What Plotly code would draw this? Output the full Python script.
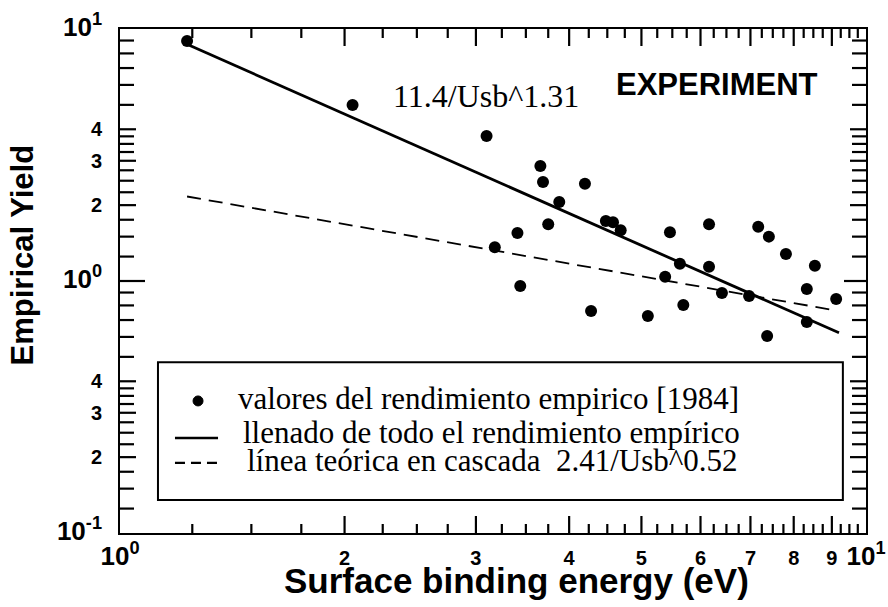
import plotly.graph_objects as go

# Measured sputtering yields vs surface binding energy
energy_ev = [1.23, 2.05, 3.10, 3.18, 3.41, 3.44, 3.66, 3.69, 3.75, 3.88, 4.20, 4.28,
             4.48, 4.58, 4.69, 5.10, 5.38, 5.46, 5.63, 5.69, 6.16, 6.16, 6.41, 6.97,
             7.17, 7.37, 7.41, 7.81, 8.33, 8.33, 8.54, 9.12]
yield_emp = [8.96, 4.99, 3.76, 1.36, 1.55, 0.955, 2.86, 2.47, 1.68, 2.06, 2.43, 0.76,
             1.73, 1.71, 1.59, 0.726, 1.04, 1.56, 1.17, 0.803, 1.68, 1.14, 0.896, 0.872,
             1.64, 0.605, 1.50, 1.28, 0.93, 0.687, 1.15, 0.848]

# Power-law fits Y = A / Usb^n, drawn over the range they span
fit_coef, fit_exp = 11.4, 1.31
fit_x = [1.23, 9.2]
casc_coef, casc_exp = 2.41, 0.52
casc_x = [1.23, 9.1]

fit_y = [fit_coef / u ** fit_exp for u in fit_x]
casc_y = [casc_coef / u ** casc_exp for u in casc_x]

# Axis ticks
big = "<span style='font-size:26px'>10<sup>%s</sup></span>"
x_major = [1, 2, 3, 4, 5, 6, 7, 8, 9, 10]
x_major_text = [big % "0", "2", "3", "4", "5", "6", "7", "8", "9", big % "1"]
x_minor = [i + q for i in range(1, 10) for q in (0.25, 0.5, 0.75)]

y_major = [0.1, 0.2, 0.3, 0.4, 1, 2, 3, 4, 10]
y_major_text = [big % "-1", "2", "3", "4", big % "0", "2", "3", "4", big % "1"]
y_minor = [v * d for d in (0.1, 1)
           for v in (1.25, 1.5, 1.75, 2.25, 2.5, 2.75, 3.25, 3.5, 3.75, 5, 6, 7, 8, 9)]

SANS = "Liberation Sans"
SERIF = "Liberation Serif"

# Axis extents (log10) and plot-area size in pixels
X_LOG = (0, 1)
Y_LOG = (-1, 1)
MARGIN = dict(l=120, r=22, t=29, b=74)
W, H = 888, 607
PX_PER_DEC_X = (W - MARGIN["l"] - MARGIN["r"]) / (X_LOG[1] - X_LOG[0])
PX_PER_DEC_Y = (H - MARGIN["t"] - MARGIN["b"]) / (Y_LOG[1] - Y_LOG[0])

fig = go.Figure()
fig.add_trace(go.Scatter(
    x=energy_ev, y=yield_emp, mode="markers",
    marker=dict(size=12, color="black"),
    name="valores del rendimiento empirico [1984]", showlegend=False))
fig.add_trace(go.Scatter(
    x=fit_x, y=fit_y, mode="lines",
    line=dict(color="black", width=2.8),
    name="llenado de todo el rendimiento empírico", showlegend=False))
fig.add_trace(go.Scatter(
    x=casc_x, y=casc_y, mode="lines",
    line=dict(color="black", width=1.8, dash="14px,8px"),
    name="línea teórica en cascada", showlegend=False))

# Inward tick marks on all four sides of the frame, built as one line trace
tick_x, tick_y = [], []
x_lo, x_hi = 10 ** X_LOG[0], 10 ** X_LOG[1]
y_lo, y_hi = 10 ** Y_LOG[0], 10 ** Y_LOG[1]


def add_x_tick(v, length):
    dy = length / PX_PER_DEC_Y
    tick_x.extend([v, v, None, v, v, None])
    tick_y.extend([y_lo, 10 ** (Y_LOG[0] + dy), None, 10 ** (Y_LOG[1] - dy), y_hi, None])


def add_y_tick(v, left_len, right_len):
    dl = left_len / PX_PER_DEC_X
    dr = right_len / PX_PER_DEC_X
    tick_x.extend([x_lo, 10 ** (X_LOG[0] + dl), None, 10 ** (X_LOG[1] - dr), x_hi, None])
    tick_y.extend([v, v, None, v, v, None])


for v in x_major[1:-1]:
    add_x_tick(v, 17)
for v in x_minor:
    add_x_tick(v, 9)
for v in y_major[1:-1]:
    if v == 1:
        add_y_tick(v, 25, 22)
    else:
        add_y_tick(v, 16, 16)
for v in y_minor:
    add_y_tick(v, 14, 14)

fig.add_trace(go.Scatter(
    x=tick_x, y=tick_y, mode="lines", line=dict(color="black", width=2.2),
    hoverinfo="skip", showlegend=False, name="ticks"))

axis_common = dict(
    type="log", showline=True, linewidth=2, linecolor="black", mirror=True,
    ticks="", tickmode="array", automargin=False, showgrid=False, zeroline=False,
    tickfont=dict(family=SANS, size=20, color="black", weight="bold"),
)

fig.update_xaxes(**axis_common, range=list(X_LOG), tickvals=x_major,
                 ticktext=x_major_text, ticklabelstandoff=6)
fig.update_yaxes(**axis_common, range=list(Y_LOG), tickvals=y_major,
                 ticktext=y_major_text, ticklabelstandoff=12)

shapes = []
# Legend box
shapes.append(dict(type="rect", xref="x domain", yref="y domain",
                   x0=0.0509, x1=0.969, y0=0.0655, y1=0.339,
                   line=dict(color="black", width=2), fillcolor="white", layer="below"))
# Legend samples
shapes.append(dict(type="circle", xref="x domain", yref="y domain",
                   xsizemode="pixel", ysizemode="pixel",
                   xanchor=0.1046, yanchor=0.262, x0=-5, x1=5, y0=-5, y1=5,
                   fillcolor="black", line=dict(color="black", width=1)))
shapes.append(dict(type="line", xref="x domain", yref="y domain",
                   x0=0.0737, x1=0.1314, y0=0.1885, y1=0.1885,
                   line=dict(color="black", width=2.5)))
shapes.append(dict(type="line", xref="x domain", yref="y domain",
                   x0=0.0737, x1=0.1314, y0=0.139, y1=0.139,
                   line=dict(color="black", width=2.2, dash="10px,6px")))


def note(text, x, y, font, xanchor="center", **kw):
    return dict(text=text, xref="x domain", yref="y domain", x=x, y=y,
                xanchor=xanchor, yanchor="middle", showarrow=False, font=font, **kw)


serif_font = dict(family=SERIF, size=31, color="black")
annotations = [
    note("11.4/Usb^1.31", 0.49, 0.868, dict(family=SERIF, size=32, color="black")),
    note("EXPERIMENT", 0.80, 0.889, dict(family=SANS, size=31, color="black", weight="bold")),
    note("valores del rendimiento empirico [1984]", 0.155, 0.266, serif_font, xanchor="left"),
    note("llenado de todo el rendimiento empírico", 0.162, 0.2, serif_font, xanchor="left"),
    note("línea teórica en cascada  2.41/Usb^0.52", 0.167, 0.144, serif_font, xanchor="left"),
    # Axis titles
    note("Surface binding energy (eV)", 0.532, -0.095,
         dict(family=SANS, size=35, color="black", weight="bold")),
    note("Empirical Yield", -0.1294, 0.5516,
         dict(family=SANS, size=31, color="black", weight="bold"), textangle=-90),
]

fig.update_layout(
    width=W, height=H,
    margin=MARGIN,
    paper_bgcolor="white", plot_bgcolor="white",
    showlegend=False, shapes=shapes, annotations=annotations,
)

fig.write_html("out.html")
